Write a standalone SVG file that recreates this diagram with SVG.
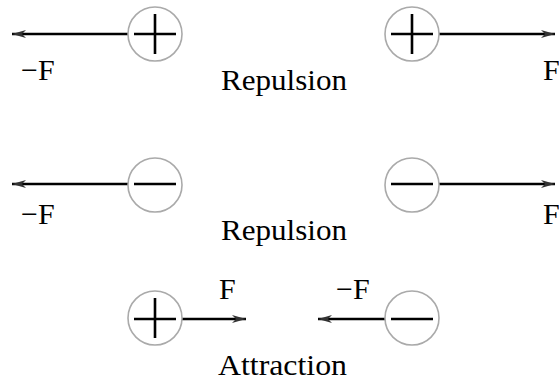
<svg xmlns="http://www.w3.org/2000/svg" width="559" height="381" viewBox="0 0 559 381">
<style>
.charge{fill:none;stroke:#aaaaaa;stroke-width:1.6}
.sign{stroke:#000;stroke-width:2.6;fill:none}
.force{stroke:#000;stroke-width:2.6;fill:none;marker-end:url(#ah)}
text{font-family:"Liberation Serif","Times New Roman",serif;font-size:30px;fill:#000}
</style>
<defs>
<marker id="ah" markerUnits="userSpaceOnUse" markerWidth="16" markerHeight="10" viewBox="-14 -5 16 10" refX="0" refY="0" orient="auto" overflow="visible">
<path d="M0,0 L-14,-4 L-10,0 L-14,4 Z" fill="#333"/>
</marker>
</defs>
<rect width="559" height="381" fill="#fff"/>
<g id="connectors">
<path class="force" d="M128,34 H12"/>
<path class="force" d="M439,34 H555"/>
<path class="force" d="M128,184 H12"/>
<path class="force" d="M439,184 H555"/>
<path class="force" d="M182,319 H246"/>
<path class="force" d="M385,319 H318"/>
</g>
<g id="charge-pos-1">
<circle class="charge" cx="155" cy="34" r="27"/>
<path class="sign" d="M134,34 H176 M155,14 V54"/>
</g>
<g id="charge-pos-2">
<circle class="charge" cx="412" cy="34" r="27"/>
<path class="sign" d="M391,34 H433 M412,14 V54"/>
</g>
<g id="charge-neg-1">
<circle class="charge" cx="155" cy="185" r="27"/>
<path class="sign" d="M134,184 H176"/>
</g>
<g id="charge-neg-2">
<circle class="charge" cx="412" cy="185" r="27"/>
<path class="sign" d="M391,184 H433"/>
</g>
<g id="charge-pos-3">
<circle class="charge" cx="155" cy="318" r="27"/>
<path class="sign" d="M134,319 H176 M155,298 V338"/>
</g>
<g id="charge-neg-3">
<circle class="charge" cx="412" cy="318" r="27"/>
<path class="sign" d="M391,319 H433"/>
</g>
<g id="labels">
<text x="21" y="80">−F</text>
<text x="543" y="80">F</text>
<text x="221" y="90" textLength="126" lengthAdjust="spacingAndGlyphs">Repulsion</text>
<text x="21" y="224">−F</text>
<text x="543" y="224">F</text>
<text x="221" y="240" textLength="126" lengthAdjust="spacingAndGlyphs">Repulsion</text>
<text x="219" y="299">F</text>
<text x="336" y="299">−F</text>
<text x="218" y="375" textLength="129" lengthAdjust="spacingAndGlyphs">Attraction</text>
</g>
</svg>
